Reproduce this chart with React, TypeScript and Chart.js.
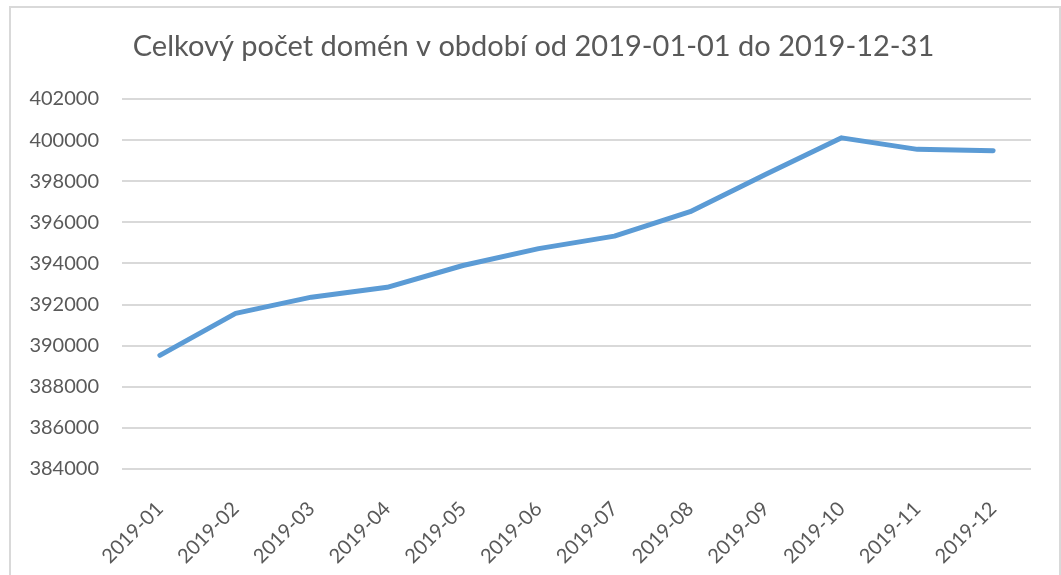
import React, { useEffect, useRef } from "react";
import { Chart, registerables } from "chart.js";

Chart.register(...registerables);

const TITLE = "Celkový počet domén v období od 2019-01-01 do 2019-12-31";
const months = [
  "2019-01", "2019-02", "2019-03", "2019-04", "2019-05", "2019-06",
  "2019-07", "2019-08", "2019-09", "2019-10", "2019-11", "2019-12",
];
const domainCounts = [
  389530, 391570, 392360, 392840, 393900, 394720,
  395330, 396520, 398340, 400110, 399550, 399480,
];
const yMin = 384000;
const yMax = 402000;
const yStep = 2000;

const FONT = "Lato, 'Open Sans', 'Liberation Sans', sans-serif";
const TEXT = "#595959";

// Draws the chart title centred over the whole chart frame (as in the reference).
const frameTitle = {
  id: "frameTitle",
  afterDraw(chart: any) {
    const ctx = chart.ctx;
    ctx.save();
    ctx.fillStyle = TEXT;
    ctx.font = `normal 29px ${FONT}`;
    ctx.textAlign = "center";
    ctx.textBaseline = "middle";
    ctx.fillText(TITLE, 533.5, 47);
    ctx.restore();
  },
};

export default function App() {
  const ref = useRef<HTMLCanvasElement | null>(null);

  useEffect(() => {
    document.body.style.margin = "0";
    const canvas = ref.current;
    if (!canvas) return;
    const chart = new Chart(canvas, {
      type: "line",
      data: {
        labels: months,
        datasets: [
          {
            label: "Počet domén",
            data: domainCounts,
            borderColor: "#5b9bd5",
            backgroundColor: "#5b9bd5",
            borderWidth: 5,
            pointRadius: 0,
            tension: 0,
            borderCapStyle: "round",
            borderJoinStyle: "round",
          },
        ],
      },
      plugins: [frameTitle],
      options: {
        animation: false,
        responsive: false,
        maintainAspectRatio: false,
        layout: { padding: { left: 0, right: 30, top: 99, bottom: 0 } },
        plugins: {
          legend: { display: false },
          tooltip: { enabled: false },
          title: { display: false },
        },
        scales: {
          x: {
            offset: true,
            grid: { display: false, drawTicks: false },
            border: { display: false },
            ticks: {
              color: TEXT,
              font: { family: FONT, size: 20 },
              minRotation: 45,
              maxRotation: 45,
              padding: 28,
              autoSkip: false,
            },
            afterFit: (scale: any) => {
              scale.height = 106;
            },
          },
          y: {
            min: yMin,
            max: yMax,
            grid: { color: "#d9d9d9", lineWidth: 2, drawTicks: false },
            border: { display: false },
            ticks: {
              stepSize: yStep,
              color: TEXT,
              font: { family: FONT, size: 20 },
              padding: 23,
              callback: (v: any) => String(v),
            },
            afterFit: (scale: any) => {
              scale.width = 122;
            },
          },
        },
      },
    });
    return () => chart.destroy();
  }, []);

  return (
    <div style={{ position: "relative", width: 1061, height: 575, overflow: "hidden", background: "#fff" }}>
      <canvas ref={ref} width={1061} height={575} style={{ position: "absolute", left: 0, top: 0 }} />
      <div
        style={{
          position: "absolute",
          left: 9,
          top: 6,
          width: 1048,
          height: 600,
          border: "2px solid #d9d9d9",
          pointerEvents: "none",
        }}
      />
    </div>
  );
}
